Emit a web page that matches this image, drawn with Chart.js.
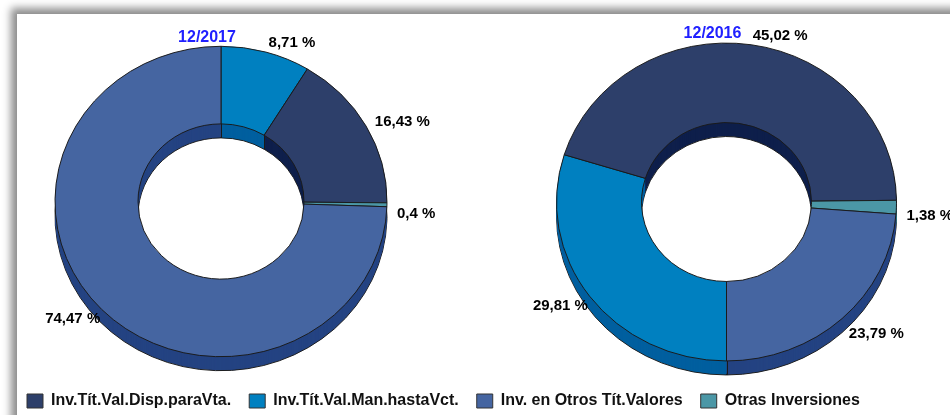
<!DOCTYPE html>
<html><head><meta charset="utf-8">
<script src="https://cdn.jsdelivr.net/npm/chart.js@4.4.0/dist/chart.umd.min.js"></script>
<style>
html,body{margin:0;padding:0;width:950px;height:415px;overflow:hidden;background:#fff;}
#frame{position:absolute;left:17px;top:14px;width:960px;height:430px;background:#fff;box-shadow:-6px -6px 8px rgba(0,0,0,0.45);}
canvas{position:absolute;}
#c1{left:0;top:0;} #c2{left:503px;top:0;} #lg{left:9px;top:375px;}
</style></head><body>
<div id="frame"></div>
<canvas id="c1" width="442" height="403"></canvas>
<canvas id="c2" width="447" height="404"></canvas>
<canvas id="lg" width="941" height="80"></canvas>
<script>
// ---- data ----
const categories = ['Inv.Tít.Val.Disp.paraVta.', 'Inv.Tít.Val.Man.hastaVct.', 'Inv. en Otros Tít.Valores', 'Otras Inversiones'];
const values2017 = [16.43, 8.71, 74.47, 0.4];
const values2016 = [45.02, 29.81, 23.79, 1.38];
const periods = ['12/2017', '12/2016'];
const sliceOrder = [1, 0, 3, 2];
const faceColors = ['#2D3F6A', '#0080C0', '#4565A1', '#4B97A6'];
const sideColors = ['#0E1F4B', '#005F9F', '#244382', '#2E7888'];

const TILT = 0.935, DEPTH = 14;
const FONT = "'Liberation Sans', Arial, sans-serif";
const fmt = v => String(v).replace('.', ',') + ' %';

function make3d(title) {
  return {
    id: 'donut3d',
    beforeDatasetsDraw(chart) {
      const ctx = chart.ctx, arcs = chart.getDatasetMeta(0).data;
      const cx = arcs[0].x, cy = arcs[0].y;
      const side = chart.data.datasets[0].sideColor;
      ctx.save();
      ctx.translate(cx, cy); ctx.scale(1, TILT); ctx.translate(-cx, -cy);
      for (let d = DEPTH; d >= 1; d--) {
        const oy = cy + d / TILT;
        arcs.forEach((a, i) => {
          ctx.beginPath();
          ctx.arc(cx, oy, a.outerRadius, a.startAngle, a.endAngle);
          ctx.arc(cx, oy, a.innerRadius, a.endAngle, a.startAngle, true);
          ctx.closePath();
          ctx.fillStyle = side[i];
          ctx.fill();
          if (d === DEPTH) { ctx.lineWidth = 1; ctx.strokeStyle = '#1a1a1a'; ctx.stroke(); }
        });
      }
    },
    afterDatasetsDraw(chart) {
      const ctx = chart.ctx;
      ctx.restore();
      const arcs = chart.getDatasetMeta(0).data;
      ctx.save();
      ctx.strokeStyle = '#1a1a1a'; ctx.lineWidth = 1;
      arcs.forEach(a => {
        const c = Math.cos(a.startAngle), s = Math.sin(a.startAngle);
        let x, y;
        if (s > 0.1) { x = a.x + c * a.outerRadius; y = a.y + s * a.outerRadius * TILT; }
        else if (s < -0.35) { x = a.x + c * a.innerRadius; y = a.y + s * a.innerRadius * TILT; }
        else return;
        ctx.beginPath(); ctx.moveTo(Math.round(x) + 0.5, y); ctx.lineTo(Math.round(x) + 0.5, y + DEPTH); ctx.stroke();
      });
      ctx.restore();
    },
    afterDraw(chart) {
      const ctx = chart.ctx, arcs = chart.getDatasetMeta(0).data;
      const vals = chart.data.datasets[0].data;
      ctx.save();
      ctx.font = 'bold 15px ' + FONT;
      ctx.fillStyle = '#000';
      ctx.textBaseline = 'middle';
      arcs.forEach((a, i) => {
        const mid = (a.startAngle + a.endAngle) / 2;
        const c = Math.cos(mid), s = Math.sin(mid);
        const r = a.outerRadius + 10 - (c < 0 ? 8 : 0);
        const x = a.x + c * r;
        const y = a.y + s * r * TILT + (s > -0.2 ? DEPTH * 0.6 : 0);
        ctx.textAlign = c >= 0 ? 'left' : 'right';
        ctx.fillText(fmt(vals[i]), x, y);
      });
      const a0 = arcs[0];
      ctx.font = 'bold 16px ' + FONT;
      ctx.fillStyle = '#2020FF';
      ctx.textAlign = 'center';
      ctx.fillText(title, a0.x - 14, a0.y - a0.outerRadius * TILT - 9);
      ctx.restore();
    }
  };
}

function donut(id, values, title, rotation, radius) {
  return new Chart(document.getElementById(id), {
    type: 'doughnut',
    data: {
      labels: sliceOrder.map(i => categories[i]),
      datasets: [{
        data: sliceOrder.map(i => values[i]),
        backgroundColor: sliceOrder.map(i => faceColors[i]),
        sideColor: sliceOrder.map(i => sideColors[i]),
        borderColor: '#1a1a1a',
        borderWidth: 1,
        clip: false
      }]
    },
    options: {
      responsive: false, animation: false, events: [],
      rotation: rotation, radius: radius, cutout: '50%',
      plugins: { legend: { display: false }, tooltip: { enabled: false }, title: { display: false } }
    },
    plugins: [make3d(title)]
  });
}

donut('c1', values2017, periods[0], 0, 166);
donut('c2', values2016, periods[1], 180, 170);

new Chart(document.getElementById('lg'), {
  type: 'doughnut',
  data: { labels: categories, datasets: [{ data: values2017, backgroundColor: faceColors, borderWidth: 0 }] },
  options: {
    responsive: false, animation: false, events: [], radius: 0,
    plugins: {
      tooltip: { enabled: false },
      legend: {
        position: 'top', align: 'start',
        labels: {
          boxWidth: 16, boxHeight: 14, padding: 18, color: '#111',
          font: { family: FONT, size: 16, weight: 'bold' },
          generateLabels(chart) {
            return Chart.overrides.doughnut.plugins.legend.labels.generateLabels(chart)
              .map(l => Object.assign(l, { lineWidth: 1, strokeStyle: '#333' }));
          }
        }
      }
    }
  }
});
</script>
</body></html>
